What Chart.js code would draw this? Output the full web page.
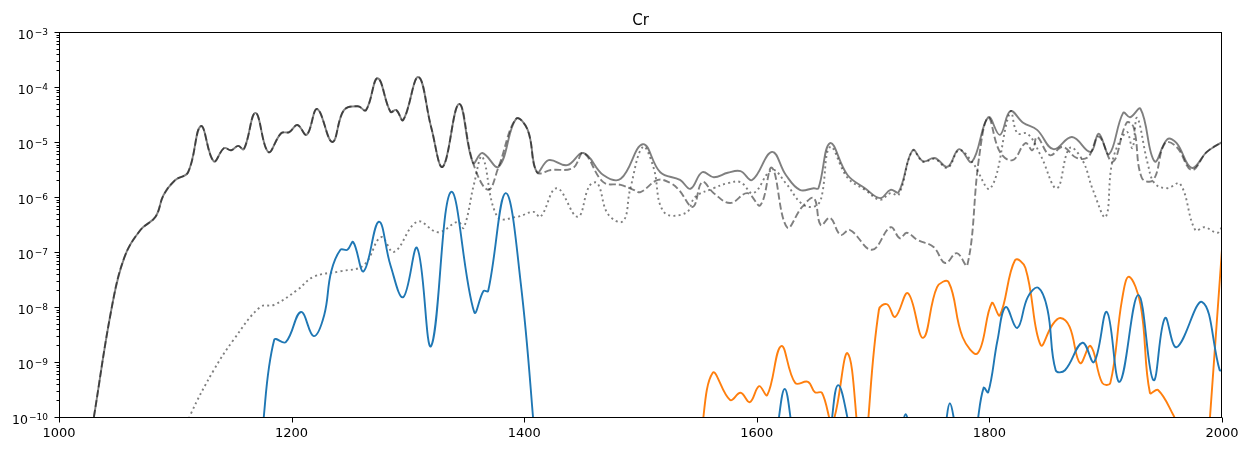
<!DOCTYPE html>
<html>
<head>
<meta charset="utf-8">
<script src="https://cdn.jsdelivr.net/npm/chart.js@4"></script>
<style>
  html, body { margin: 0; padding: 0; background: #fff; }
</style>
</head>
<body>
<canvas id="chart" width="1249" height="451"></canvas>
<script>
// data: [x, log10(y)]; [x, null] breaks the line
const chartTitle = 'Cr';
const xTicks = [1000, 1200, 1400, 1600, 1800, 2000];
const yDecades = [-10, -9, -8, -7, -6, -5, -4, -3];

const totalPairs = [
  [1030,-10],[1045,-8.05],[1056,-7.11],[1070,-6.6],[1083,-6.36],[1090,-5.96],[1100,-5.69],[1111,-5.55],
  [1122,-4.71],[1133,-5.35],[1142,-5.11],[1148,-5.15],[1154,-5.07],[1159,-5.13],[1169,-4.47],[1180,-5.18],
  [1191,-4.84],[1198,-4.82],[1205,-4.69],[1213,-4.87],[1222,-4.4],[1235,-5.0],[1245,-4.42],[1257,-4.35],
  [1264,-4.42],[1274,-3.84],[1285,-4.45],[1290,-4.42],[1296,-4.6],[1309,-3.82],[1320,-4.73],[1330,-5.45],
  [1344,-4.31],[1356,-5.38],[1364,-5.2],[1378,-5.45],[1393,-4.58],[1403,-4.78],[1411,-5.55],[1421,-5.33],
  [1437,-5.42],[1451,-5.2],[1468,-5.6],[1483,-5.67],[1502,-5.04],[1517,-5.55],[1534,-5.69],[1543,-5.85],
  [1553,-5.55],[1563,-5.64],[1575,-5.56],[1586,-5.53],[1596,-5.69],[1613,-5.18],[1625,-5.6],[1637,-5.87],
  [1649,-5.84],[1653,-5.84],[1663,-5.02],[1678,-5.6],[1693,-5.84],[1706,-6.02],[1715,-5.87],[1722,-5.91],
  [1734,-5.15],[1743,-5.35],[1753,-5.29],[1764,-5.45],[1774,-5.13],[1785,-5.36],[1799,-4.55],[1809,-4.87],
  [1818,-4.44],[1829,-4.65],[1841,-4.78],[1855,-5.13],[1871,-4.91],[1887,-5.18],[1894,-4.85],[1903,-5.22],
  [1915,-4.47],[1921,-4.55],[1930,-4.4],[1942,-5.35],[1953,-4.95],[1961,-5.02],[1974,-5.47],[1987,-5.18],
  [2000,-5.0]
];

// dashed series follows the total up to 1356, then:
const dashedTail = [
  [1369,-5.87],[1378,-5.45],[1393,-4.58],[1403,-4.78],[1411,-5.55],[1423,-5.51],[1442,-5.47],[1451,-5.2],
  [1468,-5.73],[1483,-5.78],[1494,-5.87],[1500,-5.91],[1515,-5.69],[1526,-5.75],[1533,-5.87],[1545,-6.18],
  [1553,-5.73],[1563,-5.93],[1577,-6.11],[1592,-5.93],[1603,-6.15],[1613,-5.47],[1626,-6.55],[1639,-6.18],
  [1649,-6.02],[1655,-6.51],[1663,-6.38],[1672,-6.69],[1680,-6.6],[1699,-6.96],[1715,-6.55],[1723,-6.75],
  [1729,-6.65],[1738,-6.78],[1752,-6.91],[1762,-7.2],[1772,-7.02],[1781,-7.24],[1791,-5.3],[1799,-4.56],
  [1809,-5.18],[1820,-5.33],[1831,-5.02],[1837,-5.15],[1841,-4.91],[1852,-5.24],[1863,-5.09],[1875,-5.29],
  [1885,-5.27],[1894,-4.9],[1906,-5.36],[1918,-4.65],[1924,-4.73],[1931,-5.65],[1941,-5.69],[1951,-5.02],
  [1961,-5.09],[1974,-5.51],[1987,-5.18],[2000,-5.0]
];

const dottedPairs = [
  [1108,-10.3],[1113,-9.96],[1133,-9.15],[1150,-8.6],[1173,-8.0],[1185,-7.96],[1205,-7.69],[1219,-7.45],
  [1242,-7.35],[1262,-7.24],[1277,-6.73],[1288,-7.0],[1308,-6.45],[1326,-6.64],[1343,-6.45],[1348,-6.56],
  [1357,-5.75],[1364,-5.27],[1377,-6.36],[1394,-6.36],[1408,-6.27],[1414,-6.36],[1428,-5.84],[1446,-6.36],
  [1456,-5.8],[1463,-5.75],[1472,-6.31],[1485,-6.44],[1491,-5.87],[1502,-5.09],[1511,-5.45],[1520,-6.27],
  [1539,-6.29],[1547,-6.0],[1563,-5.84],[1575,-5.75],[1586,-5.73],[1597,-5.93],[1613,-5.51],[1625,-5.75],
  [1638,-6.11],[1648,-6.18],[1655,-6.05],[1663,-5.09],[1678,-5.65],[1693,-5.87],[1706,-6.05],[1715,-5.93],
  [1722,-5.96],[1734,-5.16],[1743,-5.36],[1753,-5.31],[1764,-5.47],[1774,-5.15],[1785,-5.36],[1801,-5.84],
  [1818,-4.45],[1824,-4.84],[1833,-4.85],[1844,-5.24],[1858,-5.84],[1869,-5.11],[1880,-5.33],[1889,-5.87],
  [1900,-6.36],[1906,-5.33],[1918,-4.82],[1923,-5.11],[1927,-4.56],[1936,-5.38],[1942,-5.75],[1953,-5.84],
  [1964,-5.76],[1977,-6.6],[1985,-6.55],[1996,-6.65],[2000,-6.55]
];

const bluePairs = [
  [1174,-10.4],[1185,-8.6],[1195,-8.64],[1208,-8.09],[1219,-8.53],[1228,-8.15],[1234,-7.36],[1242,-6.96],
  [1248,-6.96],[1253,-6.82],[1262,-7.35],[1275,-6.45],[1285,-7.24],[1296,-7.82],[1308,-6.93],[1320,-8.71],
  [1337,-5.91],[1357,-8.09],[1365,-7.71],[1369,-7.71],[1384,-5.93],[1397,-7.56],[1410,-10.6],
  [1500,null],
  [1617,-10.3],[1624,-9.49],[1631,-10.3],
  [1650,null],
  [1663,-10.3],[1670,-9.42],[1681,-10.3],
  [1700,null],
  [1725,-10.15],[1728,-9.95],[1731,-10.15],
  [1745,null],
  [1762,-10.2],[1766,-9.75],[1771,-10.2],
  [1780,null],
  [1789,-10.2],[1795,-9.47],[1799,-9.55],[1807,-8.6],[1814,-8.0],[1824,-8.38],[1833,-7.82],[1842,-7.65],
  [1850,-8.05],[1857,-9.15],[1865,-9.15],[1880,-8.65],[1890,-9.0],[1901,-8.09],[1912,-9.36],[1928,-7.78],
  [1941,-9.33],[1951,-8.2],[1961,-8.73],[1983,-7.91],[1998,-9.15],[2000,-9.15]
];

const orangePairs = [
  [1551,-10.5],[1562,-9.2],[1577,-9.69],[1586,-9.56],[1594,-9.73],[1602,-9.44],[1609,-9.6],[1621,-8.71],
  [1633,-9.38],[1644,-9.36],[1650,-9.55],[1656,-9.56],[1665,-10.1],[1678,-8.84],[1688,-10.5],
  [1691,null],
  [1694,-10.5],[1705,-8.05],[1712,-7.95],[1719,-8.18],[1730,-7.75],[1743,-8.56],[1755,-7.64],[1765,-7.55],
  [1777,-8.55],[1790,-8.84],[1802,-7.93],[1809,-8.15],[1822,-7.15],[1831,-7.29],[1844,-8.69],[1854,-8.33],
  [1861,-8.2],[1869,-8.36],[1878,-9.02],[1887,-8.71],[1897,-9.38],[1904,-9.38],[1914,-7.87],[1920,-7.45],
  [1930,-7.96],[1938,-9.56],[1945,-9.51],[1958,-9.96],[1965,-10.3],
  [1975,null],
  [1988,-10.5],[2000,-6.95]
];

const toPoints = pairs => pairs.map(p => ({ x: p[0], y: p[1] === null ? null : Math.pow(10, p[1]) }));
const dashedPairs = totalPairs.filter(p => p[0] <= 1356).concat(dashedTail);

const FONT = 'DejaVu Sans';
const GRAY = 'rgba(0,0,0,0.5)';

// frame, tick marks, log labels with superscripts and title
const axesPlugin = {
  id: 'axesPlugin',
  afterDraw(chart) {
    const { ctx, chartArea: a, scales } = chart;
    const L = Math.floor(a.left) + 0.5, R = Math.floor(a.right) - 0.5;
    const T = Math.floor(a.top) + 0.5, B = Math.floor(a.bottom) + 0.5;
    ctx.save();
    ctx.strokeStyle = '#000';
    ctx.lineWidth = 1;
    ctx.strokeRect(L, T, R - L, B - T);

    ctx.beginPath();
    xTicks.forEach(v => {
      const px = Math.round(scales.x.getPixelForValue(v)) + 0.5;
      ctx.moveTo(px, B); ctx.lineTo(px, B + 5);
    });
    yDecades.forEach(n => {
      const py = Math.round(scales.y.getPixelForValue(Math.pow(10, n))) + 0.5;
      ctx.moveTo(L, py); ctx.lineTo(L - 5, py);
      if (n < -3) {
        for (let k = 2; k <= 9; k++) {
          const my = Math.round(scales.y.getPixelForValue(k * Math.pow(10, n))) + 0.5;
          ctx.moveTo(L, my); ctx.lineTo(L - 3, my);
        }
      }
    });
    ctx.stroke();

    // y labels 10^n
    ctx.fillStyle = '#000';
    ctx.textBaseline = 'alphabetic';
    ctx.textAlign = 'left';
    yDecades.forEach(n => {
      const py = scales.y.getPixelForValue(Math.pow(10, n));
      const sup = '\u2212' + Math.abs(n);
      ctx.font = '9px "' + FONT + '"';
      const supW = ctx.measureText(sup).width;
      ctx.font = '12.5px "' + FONT + '"';
      const baseW = ctx.measureText('10').width;
      const right = a.left - 11;
      const x0 = right - supW - baseW - 1;
      ctx.fillText('10', x0, py + 7);
      ctx.font = '9px "' + FONT + '"';
      ctx.fillText(sup, x0 + baseW + 1, py + 3);
    });

    ctx.font = '15px "' + FONT + '"';
    ctx.textAlign = 'center';
    ctx.fillText(chartTitle, (a.left + a.right) / 2, 25);
    ctx.restore();
  }
};

new Chart(document.getElementById('chart'), {
  type: 'line',
  data: {
    datasets: [
      { data: toPoints(bluePairs), borderColor: '#1f77b4' },
      { data: toPoints(orangePairs), borderColor: '#ff7f0e' },
      { data: toPoints(totalPairs), borderColor: GRAY },
      { data: toPoints(dashedPairs), borderColor: GRAY, borderDash: [7, 3] },
      { data: toPoints(dottedPairs), borderColor: GRAY, borderDash: [2, 3.2] }
    ]
  },
  options: {
    responsive: false,
    animation: false,
    spanGaps: false,
    elements: {
      point: { radius: 0, hoverRadius: 0 },
      line: { borderWidth: 1.9, tension: 0.4, fill: false }
    },
    layout: { padding: { top: 32, right: 27, left: 0, bottom: 0 } },
    plugins: {
      legend: { display: false },
      title: { display: false },
      tooltip: { enabled: false }
    },
    scales: {
      x: {
        type: 'linear',
        min: 1000,
        max: 2000,
        afterBuildTicks: s => { s.ticks = xTicks.map(v => ({ value: v })); },
        afterFit: s => { s.height = 34; },
        grid: { display: false, drawTicks: false },
        border: { display: false },
        ticks: {
          color: '#000',
          padding: 9,
          maxRotation: 0,
          font: { family: FONT, size: 13 },
          callback: v => String(v)
        }
      },
      y: {
        type: 'logarithmic',
        min: 1e-10,
        max: 1e-3,
        afterFit: s => { s.width = 59; },
        grid: { display: false, drawTicks: false },
        border: { display: false },
        ticks: { display: false }
      }
    }
  },
  plugins: [axesPlugin]
});
</script>
</body>
</html>
